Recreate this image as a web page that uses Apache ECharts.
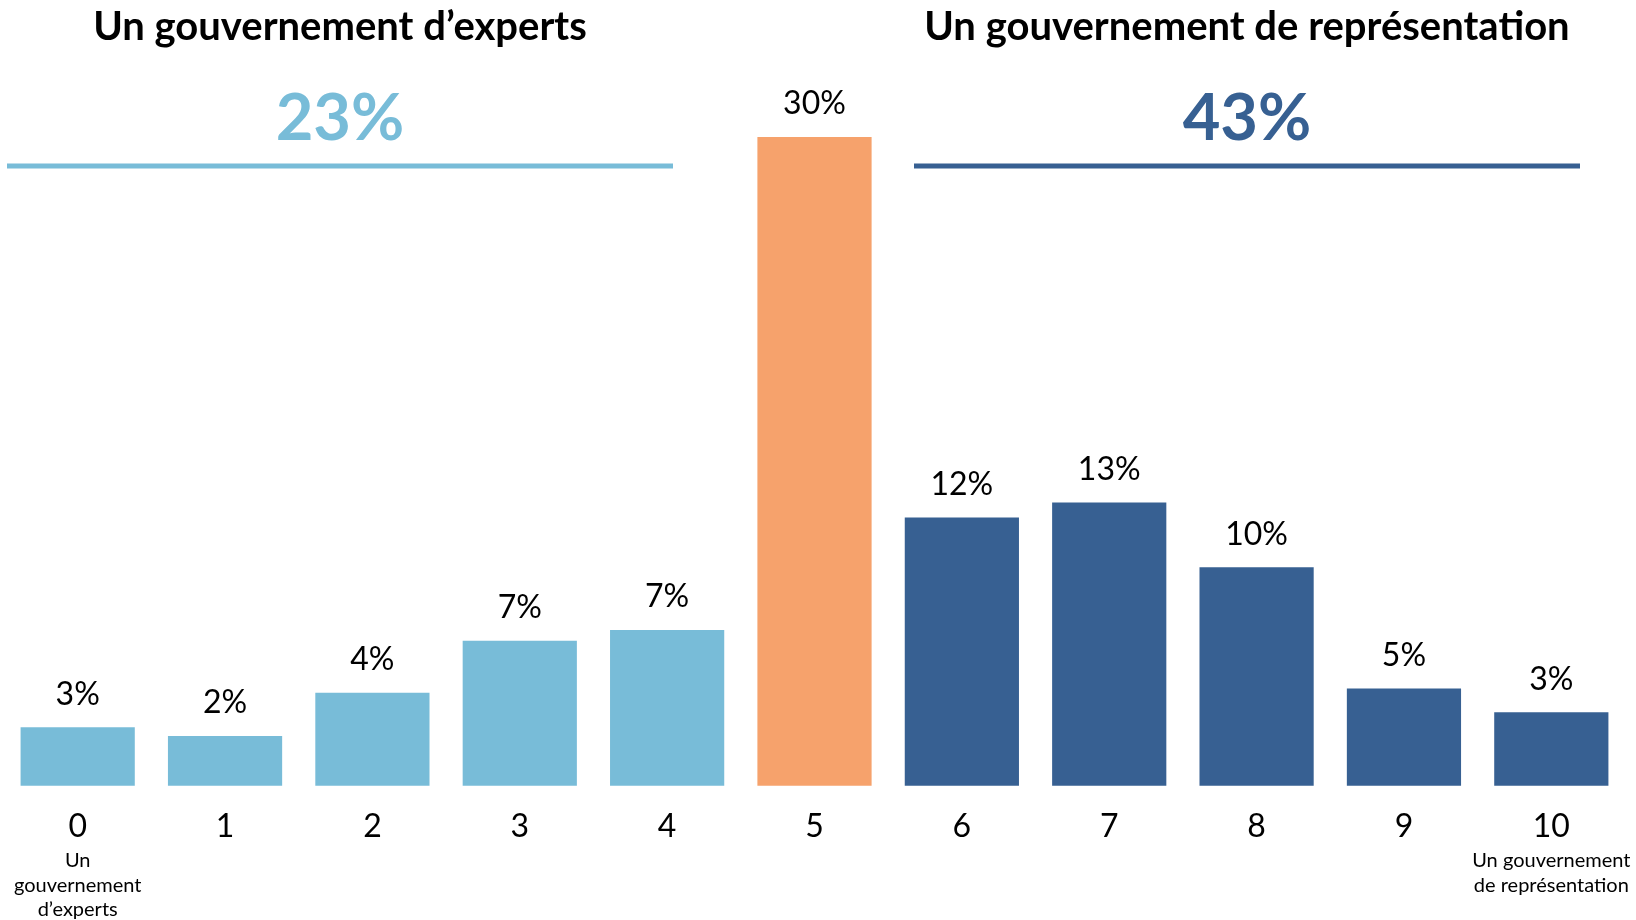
<!DOCTYPE html>
<html><head><meta charset="utf-8">
<script src="https://cdn.jsdelivr.net/npm/echarts@6/dist/echarts.min.js"></script>
<style>html,body{margin:0;padding:0;background:#fff}#c{width:1636px;height:920px}</style>
</head><body><div id="c"></div>
<script>
// ---- data ----
const categories = ['0','1','2','3','4','5','6','7','8','9','10'];
const values = [2.7, 2.3, 4.3, 6.7, 7.2, 30, 12.4, 13.1, 10.1, 4.5, 3.4];
const leftNote = ['Un', 'gouvernement', 'd’experts'];
const rightNote = ['Un gouvernement', 'de représentation'];
const groupTitles = ['Un gouvernement d’experts', 'Un gouvernement de représentation'];
const groupTotals = ['23%', '43%'];

// ---- styles ----
const LIGHT = '#78BCD8', ORANGE = '#F6A26C', DARK = '#376092';
const FONT = 'Lato';
function barColor(i) { return i < 5 ? LIGHT : (i === 5 ? ORANGE : DARK); }

const chart = echarts.init(document.getElementById('c'));
chart.setOption({
  animation: false,
  backgroundColor: '#fff',
  grid: { left: 4, right: 11, top: 137, bottom: 133, containLabel: false },
  xAxis: {
    type: 'category', data: categories,
    axisLine: { show: false }, axisTick: { show: false },
    axisLabel: {
      interval: 0, margin: 18,
      formatter: function (v, i) {
        let s = '{a|' + v + '}';
        const last = categories.length - 1;
        if (i === 0) s += '\n' + leftNote.map(t => '{b|' + t + '}').join('\n');
        if (i === last) s += '\n' + rightNote.map(t => '{b|' + t + '}').join('\n');
        return s;
      },
      rich: {
        a: { fontFamily: FONT, fontSize: 32, color: '#000', lineHeight: 45 },
        b: { fontFamily: FONT, fontSize: 20, color: '#000', lineHeight: 24.5 }
      }
    }
  },
  yAxis: { type: 'value', min: 0, max: 30, show: false, splitLine: { show: false } },
  series: [{
    type: 'bar',
    data: values.map((v, i) => ({ value: v, itemStyle: { color: barColor(i) } })),
    barCategoryGap: '22.5%',
    label: {
      show: true, position: 'top', distance: 17,
      fontFamily: FONT, fontSize: 32, color: '#000',
      formatter: p => Math.round(p.value) + '%'
    }
  }],
  graphic: [
    { type: 'text', x: 340, y: 27, style: { text: groupTitles[0], font: 'bold 40px Lato', fill: '#000', align: 'center', verticalAlign: 'middle' } },
    { type: 'text', x: 1247, y: 27, style: { text: groupTitles[1], font: 'bold 40px Lato', fill: '#000', align: 'center', verticalAlign: 'middle' } },
    { type: 'text', x: 340, y: 119, style: { text: groupTotals[0], font: 'bold 65px Lato', fill: LIGHT, align: 'center', verticalAlign: 'middle' } },
    { type: 'text', x: 1247, y: 119, style: { text: groupTotals[1], font: 'bold 65px Lato', fill: DARK, align: 'center', verticalAlign: 'middle' } },
    { type: 'line', shape: { x1: 7, y1: 166, x2: 673, y2: 166 }, style: { stroke: LIGHT, lineWidth: 5 } },
    { type: 'line', shape: { x1: 914, y1: 166, x2: 1580, y2: 166 }, style: { stroke: DARK, lineWidth: 5 } }
  ]
});
</script>
</body></html>
